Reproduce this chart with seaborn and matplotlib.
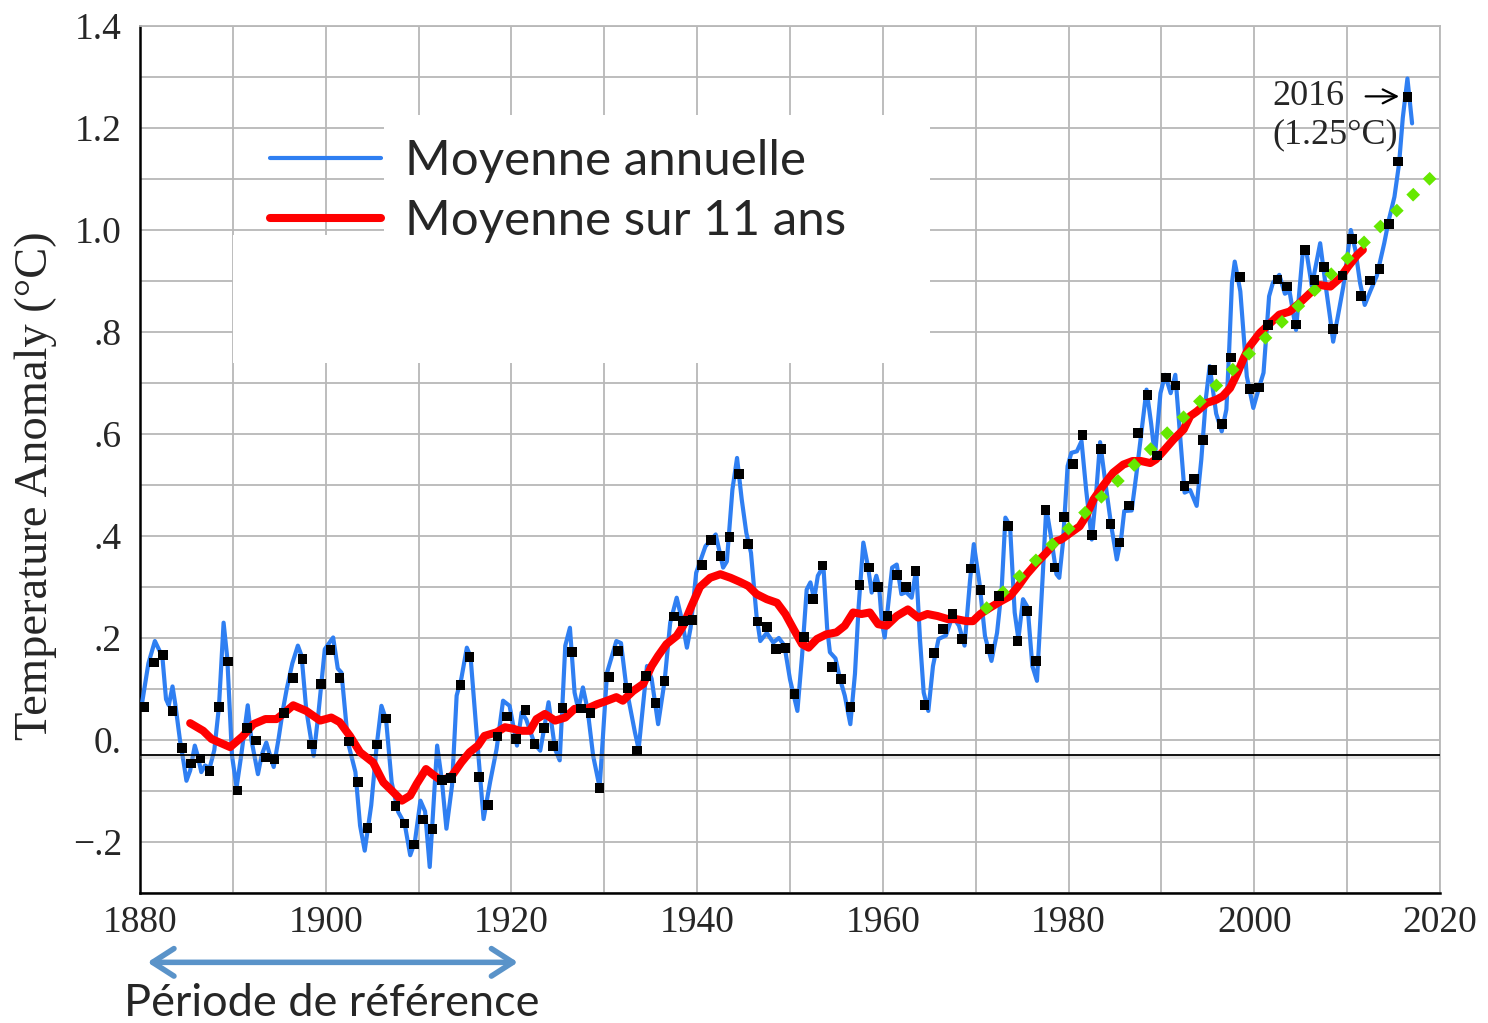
import matplotlib
matplotlib.use("Agg")
import matplotlib.pyplot as plt
import matplotlib.patches as mpatches
import numpy as np
import pandas as pd
import seaborn as sns

# annual means (black squares), 1880-2016
years = np.arange(1880, 2017)
annual = [0.065, 0.152, 0.167, 0.057, -0.016, -0.046, -0.036, -0.061, 0.065, 0.154,
          -0.099, 0.024, -0.001, -0.034, -0.038, 0.053, 0.122, 0.159, -0.009, 0.110,
          0.177, 0.121, -0.003, -0.083, -0.173, -0.009, 0.042, -0.130, -0.164, -0.205,
          -0.156, -0.174, -0.078, -0.074, 0.108, 0.163, -0.073, -0.128, 0.007, 0.046,
          0.002, 0.059, -0.008, 0.024, -0.012, 0.063, 0.173, 0.062, 0.053, -0.094,
          0.124, 0.175, 0.102, -0.021, 0.126, 0.072, 0.116, 0.242, 0.233, 0.235,
          0.343, 0.392, 0.361, 0.398, 0.522, 0.384, 0.232, 0.222, 0.179, 0.180,
          0.090, 0.202, 0.276, 0.342, 0.143, 0.119, 0.065, 0.304, 0.338, 0.300,
          0.243, 0.324, 0.300, 0.331, 0.069, 0.170, 0.217, 0.247, 0.198, 0.336,
          0.294, 0.178, 0.282, 0.419, 0.194, 0.253, 0.155, 0.451, 0.338, 0.437,
          0.541, 0.598, 0.402, 0.571, 0.423, 0.387, 0.460, 0.602, 0.676, 0.558,
          0.711, 0.695, 0.498, 0.512, 0.588, 0.725, 0.620, 0.750, 0.908, 0.688,
          0.691, 0.814, 0.903, 0.889, 0.815, 0.961, 0.902, 0.927, 0.806, 0.911,
          0.982, 0.871, 0.901, 0.924, 1.012, 1.134, 1.261]

# running (monthly) curve
blue_t = [1880.2, 1880.9, 1881.6, 1882.1, 1882.4, 1882.8, 1883.1, 1883.5, 1883.8, 1884.3,
          1884.7, 1885.0, 1885.4, 1885.9, 1886.2, 1886.6, 1887.0, 1887.5, 1888.0, 1888.5,
          1889.0, 1889.4, 1889.9, 1890.4, 1890.9, 1891.6, 1892.0, 1892.7, 1893.1, 1893.6,
          1894.0, 1894.4, 1894.9, 1895.4, 1895.8, 1896.4, 1897.0, 1897.4, 1897.9, 1898.7,
          1899.2, 1899.9, 1900.8, 1901.3, 1901.7, 1902.4, 1903.2, 1903.7, 1904.2, 1904.9,
          1905.5, 1906.0, 1906.5, 1907.1, 1907.8, 1908.5, 1909.1, 1909.6, 1910.2, 1910.7,
          1911.2, 1912.0, 1912.5, 1913.0, 1913.6, 1914.1, 1914.6, 1915.2, 1915.6, 1916.3,
          1917.0, 1917.7, 1918.4, 1919.1, 1919.8, 1920.6, 1921.1, 1921.6, 1922.5, 1923.1,
          1923.5, 1924.0, 1924.7, 1925.2, 1925.8, 1926.3, 1926.8, 1927.2, 1927.7, 1928.2,
          1928.8, 1929.5, 1930.3, 1931.3, 1931.8, 1932.4, 1933.3, 1933.7, 1934.6, 1935.1,
          1935.8, 1936.5, 1937.1, 1937.8, 1938.3, 1938.9, 1939.3, 1939.9, 1940.9, 1942.0,
          1942.8, 1943.2, 1943.8, 1944.3, 1944.8, 1945.3, 1945.8, 1946.4, 1946.8, 1947.5,
          1948.2, 1948.8, 1949.4, 1950.0, 1950.8, 1951.3, 1951.8, 1952.2, 1952.6, 1953.0,
          1953.6, 1954.0, 1954.3, 1954.9, 1955.4, 1955.9, 1956.5, 1957.0, 1957.4, 1957.9,
          1958.4, 1958.8, 1959.3, 1959.6, 1959.9, 1960.2, 1961.0, 1961.5, 1962.0, 1962.5,
          1963.1, 1963.6, 1964.0, 1964.4, 1964.9, 1965.4, 1966.0, 1966.8, 1967.5, 1968.2,
          1968.8, 1969.4, 1969.8, 1970.4, 1971.0, 1971.7, 1972.3, 1972.8, 1973.2, 1973.7,
          1974.2, 1974.6, 1975.1, 1975.6, 1976.1, 1976.6, 1977.2, 1977.6, 1978.1, 1978.7,
          1979.0, 1979.4, 1979.9, 1980.3, 1980.9, 1981.4, 1981.9, 1982.5, 1983.0, 1983.4,
          1984.0, 1984.6, 1985.2, 1985.7, 1986.0, 1986.8, 1987.3, 1987.8, 1988.4, 1988.9,
          1989.3, 1989.9, 1990.4, 1991.0, 1991.5, 1992.0, 1992.5, 1993.1, 1993.8, 1994.3,
          1994.8, 1995.2, 1995.9, 1996.5, 1997.0, 1997.3, 1997.6, 1997.9, 1998.5, 1999.2,
          1999.9, 2000.5, 2001.0, 2001.6, 2002.0, 2002.7, 2003.3, 2003.8, 2004.5, 2005.2,
          2005.6, 2006.2, 2007.1, 2007.7, 2008.2, 2008.5, 2009.0, 2009.6, 2010.4, 2010.9,
          2011.4, 2011.9, 2012.5, 2013.2, 2014.0, 2014.5, 2015.1, 2015.6, 2016.0, 2016.5,
          2017.0]
blue_v = [0.070, 0.150, 0.194, 0.175, 0.165, 0.080, 0.068, 0.105, 0.070, 0.000,
          -0.044, -0.080, -0.060, -0.011, -0.030, -0.063, -0.050, -0.055, -0.020, 0.065,
          0.230, 0.160, -0.030, -0.093, -0.030, 0.068, 0.000, -0.067, -0.030, -0.005,
          -0.030, -0.053, 0.000, 0.060, 0.100, 0.150, 0.185, 0.165, 0.060, -0.031,
          0.050, 0.178, 0.201, 0.140, 0.132, -0.005, -0.063, -0.168, -0.217, -0.128,
          -0.009, 0.067, 0.040, -0.083, -0.141, -0.164, -0.226, -0.200, -0.119, -0.140,
          -0.249, -0.011, -0.078, -0.174, -0.090, 0.087, 0.120, 0.181, 0.163, 0.002,
          -0.155, -0.083, -0.018, 0.077, 0.067, -0.011, 0.054, 0.040, -0.008, -0.021,
          0.020, 0.074, -0.018, -0.040, 0.185, 0.220, 0.093, 0.060, 0.103, 0.060,
          -0.031, -0.093, 0.132, 0.194, 0.190, 0.100, 0.015, -0.018, 0.145, 0.120,
          0.031, 0.116, 0.230, 0.279, 0.240, 0.181, 0.220, 0.328, 0.380, 0.403,
          0.338, 0.350, 0.491, 0.553, 0.472, 0.406, 0.367, 0.243, 0.194, 0.210,
          0.191, 0.200, 0.185, 0.119, 0.057, 0.165, 0.295, 0.309, 0.276, 0.322,
          0.341, 0.220, 0.172, 0.160, 0.119, 0.087, 0.031, 0.130, 0.263, 0.387,
          0.340, 0.289, 0.322, 0.300, 0.230, 0.201, 0.338, 0.344, 0.286, 0.290,
          0.279, 0.335, 0.198, 0.093, 0.057, 0.145, 0.198, 0.205, 0.243, 0.224,
          0.185, 0.315, 0.384, 0.309, 0.204, 0.155, 0.210, 0.296, 0.436, 0.420,
          0.250, 0.198, 0.276, 0.260, 0.145, 0.116, 0.315, 0.455, 0.400, 0.325,
          0.318, 0.387, 0.537, 0.563, 0.566, 0.586, 0.490, 0.393, 0.490, 0.584,
          0.500, 0.420, 0.354, 0.400, 0.449, 0.450, 0.520, 0.596, 0.687, 0.620,
          0.556, 0.680, 0.716, 0.680, 0.716, 0.600, 0.485, 0.490, 0.459, 0.550,
          0.671, 0.733, 0.640, 0.605, 0.648, 0.765, 0.896, 0.938, 0.880, 0.713,
          0.651, 0.690, 0.720, 0.870, 0.896, 0.912, 0.875, 0.880, 0.804, 0.951,
          0.960, 0.890, 0.974, 0.890, 0.824, 0.781, 0.830, 0.890, 1.000, 0.960,
          0.896, 0.853, 0.880, 0.910, 0.974, 1.020, 1.065, 1.130, 1.220, 1.297,
          1.209]

# 11-year mean (red)
red_t = [1885.4, 1886.8, 1887.7, 1889.7, 1891.1, 1892.2, 1893.5, 1894.7, 1895.4, 1896.5,
         1897.9, 1899.4, 1900.6, 1901.5, 1902.6, 1903.7, 1905.1, 1906.2, 1907.1, 1908.2,
         1909.1, 1909.8, 1910.8, 1911.7, 1912.5, 1913.6, 1914.6, 1915.5, 1916.4, 1917.1,
         1918.4, 1919.3, 1920.2, 1920.9, 1922.0, 1922.7, 1923.6, 1924.7, 1925.8, 1926.8,
         1928.1, 1929.2, 1930.3, 1931.3, 1932.0, 1933.1, 1934.2, 1935.1, 1935.8, 1936.7,
         1937.8, 1938.5, 1939.4, 1940.3, 1941.4, 1942.5, 1943.6, 1944.6, 1945.5, 1946.4,
         1947.5, 1948.6, 1949.5, 1950.4, 1951.3, 1952.0, 1952.9, 1953.9, 1955.0, 1955.9,
         1956.8, 1957.7, 1958.6, 1959.5, 1960.4, 1961.5, 1962.7, 1963.8, 1964.8, 1965.9,
         1967.0, 1967.9, 1969.0, 1969.7, 1970.5, 1971.6, 1972.6, 1973.7, 1974.6, 1975.5,
         1976.6, 1977.6, 1978.7, 1979.2, 1980.2, 1981.2, 1981.9, 1982.7, 1983.7, 1984.8,
         1985.9, 1986.9, 1987.8, 1988.8, 1989.4, 1990.2, 1991.3, 1992.4, 1993.1, 1993.8,
         1994.9, 1995.9, 1996.6, 1997.4, 1998.2, 1998.9, 1999.5, 2000.6, 2001.7, 2002.7,
         2003.8, 2004.9, 2006.0, 2007.1, 2008.2, 2009.2, 2010.1, 2011.1, 2011.7]
red_v = [0.033, 0.018, 0.002, -0.014, 0.008, 0.031, 0.041, 0.041, 0.051, 0.068,
         0.057, 0.038, 0.044, 0.035, 0.008, -0.024, -0.044, -0.083, -0.099, -0.119,
         -0.109, -0.086, -0.057, -0.070, -0.080, -0.070, -0.044, -0.024, -0.011, 0.008,
         0.015, 0.025, 0.022, 0.018, 0.018, 0.041, 0.051, 0.038, 0.044, 0.061,
         0.061, 0.070, 0.077, 0.084, 0.077, 0.096, 0.110, 0.145, 0.165, 0.188,
         0.204, 0.224, 0.263, 0.300, 0.318, 0.325, 0.318, 0.310, 0.302, 0.286,
         0.276, 0.269, 0.247, 0.217, 0.188, 0.181, 0.198, 0.207, 0.211, 0.224,
         0.250, 0.247, 0.250, 0.227, 0.224, 0.243, 0.256, 0.240, 0.247, 0.243,
         0.237, 0.237, 0.233, 0.233, 0.247, 0.260, 0.271, 0.282, 0.302, 0.325,
         0.348, 0.367, 0.390, 0.393, 0.406, 0.419, 0.439, 0.472, 0.498, 0.524,
         0.540, 0.547, 0.547, 0.543, 0.550, 0.566, 0.589, 0.609, 0.635, 0.644,
         0.661, 0.667, 0.674, 0.690, 0.720, 0.750, 0.772, 0.798, 0.817, 0.834,
         0.840, 0.857, 0.876, 0.892, 0.889, 0.905, 0.928, 0.951, 0.961]

# linear trend since 1970 (green dots)
trend_t = [1970.8, 2020.0]
trend_v = [0.252, 1.120]

ytick_vals = [-0.2, 0.0, 0.2, 0.4, 0.6, 0.8, 1.0, 1.2, 1.4]
ytick_labels = ["\u2212.2", "0.", ".2", ".4", ".6", ".8", "1.0", "1.2", "1.4"]

sns.set_style("white")
plt.rcParams['font.family'] = ['Liberation Serif', 'DejaVu Serif']
sans = ['Lato', 'DejaVu Sans']

fig, ax = plt.subplots(figsize=(14.88, 10.23), dpi=100)
fig.subplots_adjust(left=0.0941, right=0.9677, bottom=0.1271, top=0.9746)

df_blue = pd.DataFrame({'t': blue_t, 'v': blue_v})
df_red = pd.DataFrame({'t': red_t, 'v': red_v})
df_ann = pd.DataFrame({'t': years + 0.5, 'v': annual})

sns.lineplot(data=df_blue, x='t', y='v', ax=ax, color='#2f7ff2', lw=3.0,
             sort=False, estimator=None, label='Moyenne annuelle', zorder=3)
ax.axhline(-0.034, color='#aaaaaa', lw=3, alpha=0.3, zorder=3.5)
ax.axhline(-0.03, color='black', lw=1.3, zorder=3.6)
sns.lineplot(data=df_red, x='t', y='v', ax=ax, color='#ff0000', lw=5.8,
             sort=False, estimator=None, label='Moyenne sur 11 ans', zorder=4,
             solid_capstyle='round')
ax.plot(trend_t, trend_v, color='#66e800', lw=7.0, linestyle=(0, (1.0, 1.35)),
        dash_capstyle='butt', zorder=5)
sns.scatterplot(data=df_ann, x='t', y='v', ax=ax, marker='s', s=48, color='black',
                edgecolor='none', zorder=6, legend=False)

ax.set_xlim(1880, 2020)
ax.set_ylim(-0.3, 1.4)
ax.set_xticks(np.arange(1880, 2021, 20))
ax.set_xticks(np.arange(1880, 2021, 10), minor=True)
ax.set_yticks(ytick_vals, labels=ytick_labels)
ax.set_yticks(np.arange(-0.3, 1.41, 0.1), minor=True)
ax.set_axisbelow(True)
ax.grid(which='both', color='#b8b8b8', lw=1.3)
ax.tick_params(which='both', length=0, labelsize=27)
ax.tick_params(axis='x', pad=9)
ax.tick_params(axis='y', pad=13)

for side in ['left', 'bottom']:
    ax.spines[side].set_color('black')
    ax.spines[side].set_linewidth(1.8)
for side in ['top', 'right']:
    ax.spines[side].set_color('#b8b8b8')
    ax.spines[side].set_linewidth(1.3)

ax.set_xlabel('')
ax.set_ylabel('Temperature Anomaly (°C)', fontsize=33.5)
ax.yaxis.set_label_coords(-0.064, 0.47)

# white panel behind the legend
ax.add_patch(mpatches.Rectangle((1906.3, 0.74), 1965.1 - 1906.3, 1.225 - 0.74,
                                facecolor='white', edgecolor='none', zorder=1))
ax.add_patch(mpatches.Rectangle((1890.0, 0.74), 1906.3 - 1890.0, 0.99 - 0.74,
                                facecolor='white', edgecolor='none', zorder=1))

handles, labels = ax.get_legend_handles_labels()
leg = ax.legend(handles, labels, loc='upper left', bbox_to_anchor=(0.1815, 0.864),
                bbox_transform=fig.transFigure, frameon=False, borderpad=0,
                borderaxespad=0, handlelength=2.25, handletextpad=0.48,
                labelspacing=0.33, prop={'family': sans, 'size': 35.5})

ax.text(2002.0, 1.262, '2016', fontsize=26, va='center', ha='left')
ax.text(2002.0, 1.186, '(1.25°C)', fontsize=26, va='center', ha='left')
ax.annotate('', xy=(2015.6, 1.262), xytext=(2012.0, 1.262),
            arrowprops=dict(arrowstyle='->,head_length=0.5,head_width=0.25',
                            color='black', lw=1.6, mutation_scale=20,
                            shrinkA=0, shrinkB=0))

ax.annotate('', xy=(1921.0, -0.08), xytext=(1880.5, -0.08),
            xycoords=('data', 'axes fraction'), textcoords=('data', 'axes fraction'),
            arrowprops=dict(arrowstyle='<->,head_length=0.7,head_width=0.45',
                            color='#5a93c9', lw=4, mutation_scale=22),
            annotation_clip=False)
ax.text(1900.7, -0.127, 'Période de référence', transform=ax.get_xaxis_transform(),
        fontsize=32.5, family=sans, ha='center', va='center', clip_on=False)

plt.savefig('out.png', dpi=100)
